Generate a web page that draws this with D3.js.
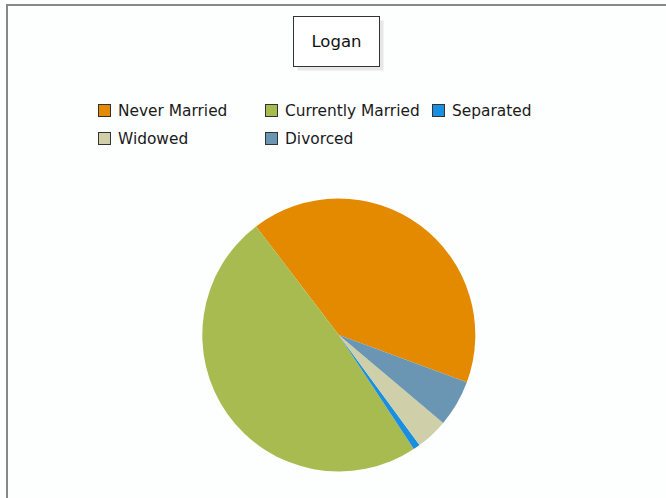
<!DOCTYPE html>
<html><head><meta charset="utf-8">
<script src="https://cdn.jsdelivr.net/npm/d3@7"></script>
<style>html,body{margin:0;padding:0;background:#fff;}svg{display:block;}</style>
</head><body>
<svg id="c" width="666" height="498"></svg>
<script>
const title = "Logan";
const categories = ["Never Married", "Currently Married", "Separated", "Widowed", "Divorced"];
const values = [41.0, 48.9, 0.8, 3.8, 5.5];
const colors = ["#e38a00", "#a8bb50", "#1a8fe0", "#cfd0aa", "#6a96b4"];

const svg = d3.select("#c");
svg.append("rect").attr("x",0).attr("y",0).attr("width",666).attr("height",498).attr("fill","#fdfefe");
svg.append("rect").attr("x",7).attr("y",5).attr("width",700).attr("height",600)
  .attr("fill","none").attr("stroke","#888").attr("stroke-width",2);

// title box with shadow
const tb = {x:293.5, y:16.5, w:86, h:50};
svg.append("rect").attr("x",tb.x+4).attr("y",tb.y+4).attr("width",tb.w).attr("height",tb.h)
  .attr("fill","#ddd").attr("opacity",0.7);
svg.append("rect").attr("x",tb.x).attr("y",tb.y).attr("width",tb.w).attr("height",tb.h)
  .attr("fill","#fff").attr("stroke","#333").attr("stroke-width",1);
svg.append("text").attr("x",tb.x+tb.w/2).attr("y",47).attr("text-anchor","middle")
  .attr("font-family","DejaVu Sans, Verdana, sans-serif").attr("font-size",16.5).attr("fill","#111").text(title);

// legend
const legendPos = [[98,104],[265,104],[432,104],[98,132],[265,132]];
const lg = svg.append("g");
categories.forEach((c,i)=>{
  const [x,y] = legendPos[i];
  lg.append("rect").attr("x",x+0.5).attr("y",y+0.5).attr("width",12).attr("height",12)
    .attr("fill",colors[i]).attr("stroke","#333").attr("stroke-width",1);
  lg.append("text").attr("x",x+20).attr("y",y+12).attr("font-family","DejaVu Sans, Verdana, sans-serif")
    .attr("font-size",15.4).attr("fill","#1a1a1a").text(c);
});

// pie
const cx = 338.8, cy = 335, r = 136.5;
const start = 110.3*Math.PI/180;
const pie = d3.pie().sort(null).value(d=>d).startAngle(start).endAngle(start - 2*Math.PI);
const arc = d3.arc().innerRadius(0).outerRadius(r);
const color = d3.scaleOrdinal().domain(categories).range(colors);
svg.append("g").attr("transform",`translate(${cx},${cy})`)
  .selectAll("path").data(pie(values)).join("path")
  .attr("d",arc).attr("fill",(d,i)=>color(categories[i]));
</script>
</body></html>
